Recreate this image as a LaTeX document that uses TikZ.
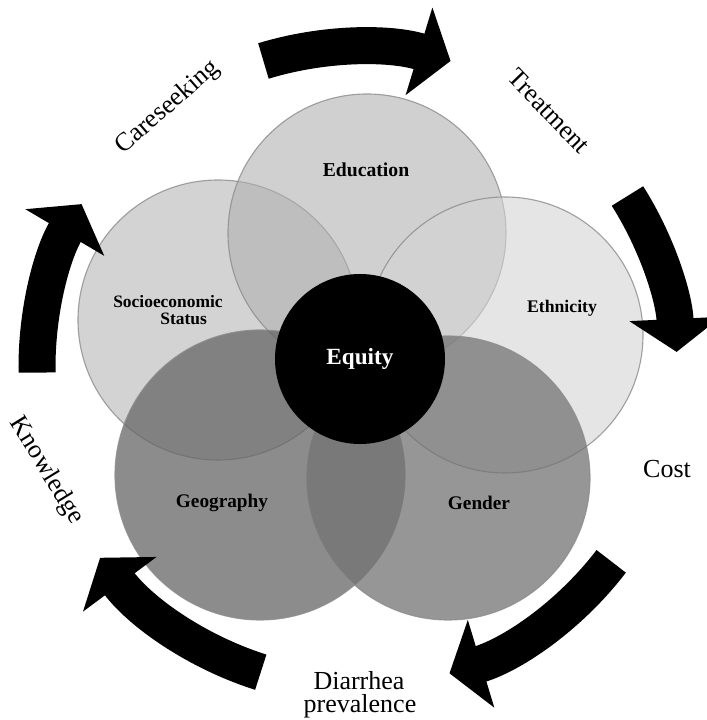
\documentclass[tikz,border=0pt]{standalone}
\usepackage{fontspec}
\setmainfont{Liberation Serif}
\usetikzlibrary{arrows.meta}

\begin{document}
\begin{tikzpicture}[
     x = 0.25mm, y = 0.25mm,
   ring/.style = {circle, draw=black!45, line width=0.8pt, draw opacity=0.8, inner sep=0pt},
 factor/.style = {font=\fontsize{13.7}{15}\selectfont\bfseries},
  stage/.style = {font=\fontsize{18.5}{17}\selectfont, anchor=base},
   turn/.style = {line width=9.25mm, -{Triangle[width=22.5mm, length=8.25mm]}}
                        ]
\useasboundingbox (0,0) rectangle (707,720);
\clip (0,0) rectangle (707,720);
% overlapping circles
\node (socio) [ring, fill=black!29, fill opacity=0.6, minimum size=70mm] at (218,400) {};
\node (edu)   [ring, fill=black!31, fill opacity=0.6, minimum size=69.5mm] at (367,487) {};
\node (eth)   [ring, fill=black!17, fill opacity=0.6, minimum size=69mm] at (505,385) {};
\node (geo)   [ring, fill=black!60, fill opacity=0.75, minimum size=72.5mm] at (260,245) {};
\node (gen)   [ring, fill=black!55, fill opacity=0.75, minimum size=71mm] at (448,242) {};
\node (equity) [circle, fill=black, inner sep=0pt, minimum size=42.5mm, text=white,
                font=\fontsize{16.5}{18}\selectfont\bfseries] at (360,361) {Equity};
% circle labels
\node (edutext)   [factor, font=\fontsize{14}{16}\selectfont\bfseries] at (366,550) {Education};
\node (sociotext) [factor, font=\fontsize{12.4}{12.4}\selectfont\bfseries, align=center] at (168,410)
                  {Socioeconomic\\\hspace*{1.8em}Status};
\node (ethtext)   [factor, font=\fontsize{12.6}{14}\selectfont\bfseries] at (562,412) {Ethnicity};
\node (geotext)   [factor] at (222,217) {Geography};
\node (gentext)   [factor] at (479,217) {Gender};
% cycle
\node (care)  [stage, rotate=41]    at (172,608) {Careseeking};
\node (treat) [stage, rotate=-46]   at (543,603) {Treatment};
\node (cost)  [stage]               at (667,242) {Cost};
\node (diar)  [stage]               at (359,31)  {Diarrhea};
\node (prev)  [stage]               at (360,8)   {prevalence};
\node (know)  [stage, rotate=-58.5] at (41,246)  {Knowledge};
\coordinate (O) at (357,353);
\draw[turn] ([shift={(107:320)}]O) arc[start angle=107, end angle=73, radius=320];
\draw[turn] ([shift={(32.3:320)}]O) arc[start angle=32.3, end angle=2.7, radius=320];
\draw[turn] ([shift={(-37.4:320)}]O) arc[start angle=-37.4, end angle=-73.2, radius=320];
\draw[turn] ([shift={(-107.5:320)}]O) arc[start angle=-107.5, end angle=-143.4, radius=320];
\draw[turn] ([shift={(181:320)}]O) arc[start angle=181, end angle=149.4, radius=320];
\end{tikzpicture}
\end{document}
